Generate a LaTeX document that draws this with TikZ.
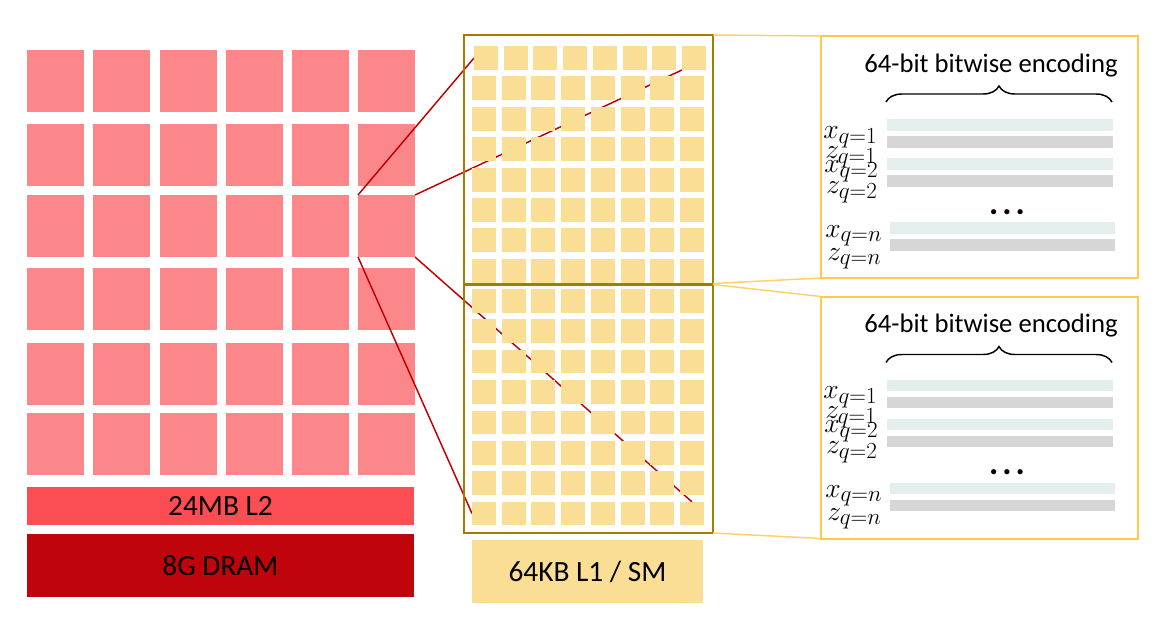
\documentclass[tikz,border=0pt]{standalone}
\usepackage{fontspec}
\setmainfont{Carlito}
\usetikzlibrary{fit,decorations.pathreplacing,calc}
\DeclareMathSizes{21}{21}{17}{13}
\definecolor{cPink}{HTML}{FC878A}
\definecolor{cL2}{HTML}{FA4E54}
\definecolor{cDram}{HTML}{C0040B}
\definecolor{cYel}{HTML}{FADE96}
\definecolor{cBrown}{HTML}{A67C00}
\definecolor{cGold}{HTML}{FFC94C}
\definecolor{cLine}{HTML}{C00000}
\definecolor{cBarL}{HTML}{E4EEEC}
\definecolor{cBarG}{HTML}{D6D6D6}
\pgfdeclarelayer{back}
\pgfdeclarelayer{mid}
\pgfsetlayers{back,mid,main}
\begin{document}
\begin{tikzpicture}[x=0.75pt,y=-0.75pt,
  blk/.style={inner sep=0pt, outer sep=0pt, draw=none},
  redsq/.style={blk, fill=cPink},
  ysq/.style={blk, fill=cYel},
  l1box/.style={draw=cBrown, line width=1.5pt, inner sep=0pt, outer sep=0pt},
  encbox/.style={draw=cGold, line width=1.5pt, inner sep=0pt, outer sep=0pt},
  redline/.style={draw=cLine, line width=1.1pt},
  goldline/.style={draw=cGold!85!white, line width=1.1pt},
  barl/.style={blk, fill=cBarL},
  barg/.style={blk, fill=cBarG},
  biglbl/.style={font=\fontsize{22}{26}\selectfont, text=black},
  title/.style={font=\fontsize{20}{24}\selectfont, anchor=base, inner sep=0pt},
  mlbl/.style={font=\fontsize{21}{24}\selectfont, anchor=base west, inner sep=0pt},
  dotlbl/.style={font=\fontsize{26}{30}\selectfont\bfseries, anchor=base, inner sep=0pt},
  bracestyle/.style={decorate, decoration={brace, amplitude=12pt}, line width=1.1pt},
]
\useasboundingbox (0,0) rectangle (1170,621);

% red SM grid
\begin{pgfonlayer}{back}
\foreach \i/\y in {1/50,2/124,3/195,4/268,5/343,6/413}{
  \foreach \j/\x in {1/27,2/93,3/160,4/226,5/292,6/358}{
    \node[redsq, fit={(\x,\y) (\x+57,\y+62)}] (r-\i-\j) {};
  }
}
\end{pgfonlayer}

% L2 and DRAM
\node[blk, fill=cL2, fit={(27,487) (414,525)}] (l2) {};
\node[biglbl] at (l2.center) {24MB L2};
\node[blk, fill=cDram, fit={(27,534) (414,597)}] (dram) {};
\node[biglbl] at (dram.center) {8G DRAM};

% yellow L1 grids
\foreach \i in {1,...,8}{
  \foreach \j in {1,...,8}{
    \pgfmathsetmacro\xo{\i==1 ? 2 : 0}
    \pgfmathsetmacro\xa{472+29.7*(\j-1)+\xo}
    \pgfmathsetmacro\ya{46+30.4*(\i-1)}
    \pgfmathsetmacro\yb{289+30.4*(\i-1)}
    \node[ysq, fit={(\xa,\ya) (\xa+24,\ya+24)}] (ya-\i-\j) {};
    \pgfmathsetmacro\xb{472+29.7*(\j-1)}
    \node[ysq, fit={(\xb,\yb) (\xb+24,\yb+23.5)}] (yb-\i-\j) {};
  }
}
\node[l1box, fit={(464,35) (713,283.5)}] (l1a) {};
\node[l1box, fit={(464,284.5) (713,533)}] (l1b) {};

\node[blk, fill=cYel, fit={(472,540) (703,603)}] (l1lbl) {};
\node[biglbl] at (l1lbl.center) {64KB L1 / SM};

% red connectors (behind yellow squares)
\begin{pgfonlayer}{mid}
\draw[redline] (r-3-6.north west) -- (ya-1-1.west);
\draw[redline] (r-3-6.north east) -- (ya-1-8.south west);
\draw[redline] (r-3-6.south east) -- (yb-8-8.north);
\draw[redline] (r-3-6.south west) -- (yb-8-1.west);
\end{pgfonlayer}

% encoding boxes
\foreach \dy/\n in {0/a,260.5/b}{
  \node[encbox, fit={(821,36+\dy) (1137.5,278+\dy)}] (enc\n) {};
  \node[title] (tt\n) at (991,72+\dy) {64-bit bitwise encoding};
  \coordinate (bl\n) at (886,102+\dy);
  \coordinate (br\n) at (1112,102+\dy);
  \draw[bracestyle] (bl\n) -- (br\n);
  \node[barl, fit={(887,119+\dy) (1113,130.5+\dy)}] (b1\n) {};
  \node[barg, fit={(887,136+\dy) (1113,147.5+\dy)}] (b2\n) {};
  \node[barl, fit={(887,158+\dy) (1113,169.5+\dy)}] (b3\n) {};
  \node[barg, fit={(887,175+\dy) (1113,186.5+\dy)}] (b4\n) {};
  \node[dotlbl] (dots\n) at (1007,214+\dy) {.\kern3pt.\kern3pt.};
  \node[barl, fit={(890,222+\dy) (1115,233.5+\dy)}] (b5\n) {};
  \node[barg, fit={(890,239+\dy) (1115,250.5+\dy)}] (b6\n) {};
  \node[mlbl] (lx1\n) at (823,138+\dy) {$x_{q=1}$};
  \node[mlbl] (lz1\n) at (825,158+\dy) {$z_{q=1}$};
  \node[mlbl] (lx2\n) at (824,172+\dy) {$x_{q=2}$};
  \node[mlbl] (lz2\n) at (826,193+\dy) {$z_{q=2}$};
  \node[mlbl] (lxn\n) at (825,237+\dy) {$x_{q=n}$};
  \node[mlbl] (lzn\n) at (827,260+\dy) {$z_{q=n}$};
}

% gold connectors
\draw[goldline] (l1a.north east) -- (enca.north west);
\draw[goldline] (l1a.south east) -- (enca.south west);
\draw[goldline] (l1b.north east) -- (encb.north west);
\draw[goldline] (l1b.south east) -- (encb.south west);
\end{tikzpicture}
\end{document}
